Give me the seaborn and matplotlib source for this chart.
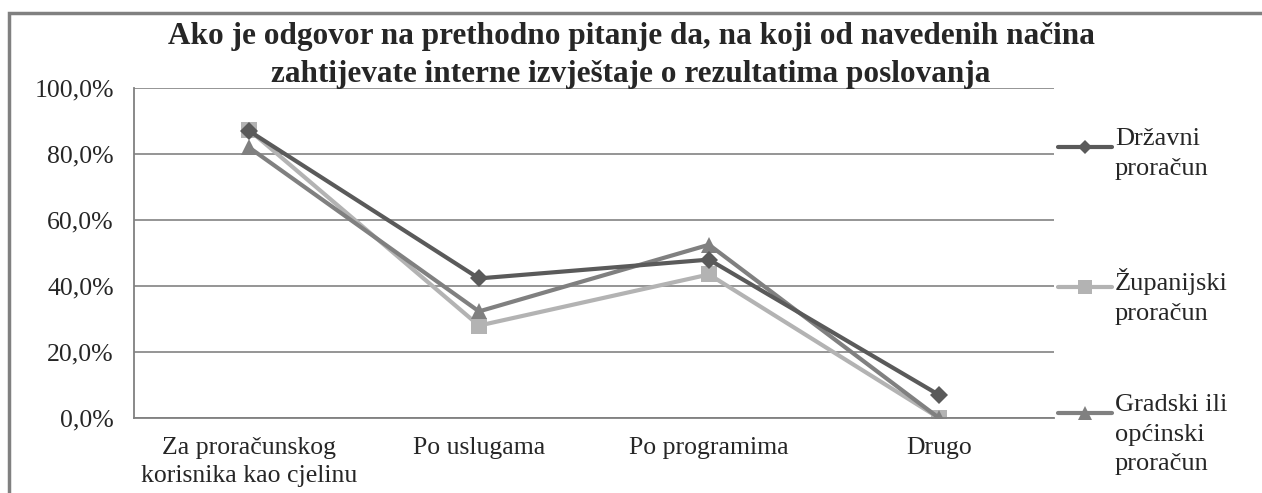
import matplotlib
matplotlib.use("Agg")
import matplotlib.pyplot as plt
from matplotlib.patches import Rectangle
from matplotlib.ticker import FuncFormatter
import pandas as pd
import seaborn as sns

# Podaci
kategorije = ["Za proračunskog\nkorisnika kao cjelinu", "Po uslugama", "Po programima", "Drugo"]
serije = ["Državni\nproračun", "Županijski\nproračun", "Gradski ili\nopćinski\nproračun"]
drzavni = [87.0, 42.3, 48.0, 7.0]
zupanijski = [87.3, 28.0, 43.5, 0.0]
gradski = [82.0, 32.3, 52.5, 0.0]

boje = ["#5a5a5a", "#b3b3b3", "#808080"]
markeri = ["D", "s", "^"]
velicine = [9, 12, 12]

df = pd.DataFrame({
    "x": list(range(len(kategorije))) * 3,
    "vrijednost": drzavni + zupanijski + gradski,
    "serija": [serije[0]] * 4 + [serije[1]] * 4 + [serije[2]] * 4,
})

sns.set_style("white")
plt.rcParams["font.family"] = ["Liberation Serif", "DejaVu Serif"]

W, H = 1262, 493
fig = plt.figure(figsize=(W / 100, H / 100), dpi=100)
ax = fig.add_axes([134 / W, (H - 418) / H, (1054 - 134) / W, (418 - 88) / H])

# crtanje redom da Državni bude na vrhu kao u originalu
for ser, c, m, ms, z in zip(serije, boje, markeri, velicine, [4, 2, 3]):
    sub = df[df["serija"] == ser]
    sns.lineplot(data=sub, x="x", y="vrijednost", color=c, marker=m, markersize=ms,
                 markeredgewidth=0, linewidth=3, ax=ax, zorder=z)

ax.set_xlim(-0.5, 3.5)
ax.set_ylim(0, 100)
ax.set_yticks([0, 20, 40, 60, 80, 100])
ax.yaxis.set_major_formatter(FuncFormatter(lambda v, p: f"{v:.1f}%".replace(".", ",")))
ax.set_xticks(range(len(kategorije)))
ax.set_xticklabels(kategorije, fontsize=18.5, linespacing=1.35)
ax.set_xticks([-0.5, 0.5, 1.5, 2.5, 3.5], minor=True)
ax.tick_params(axis="x", which="major", length=0, pad=14)
ax.tick_params(axis="x", which="minor", length=6.5, width=1.2, color="#808080", direction="out")
ax.tick_params(axis="y", length=6.5, width=1.2, color="#808080", direction="out", labelsize=18.5, pad=8)
ax.grid(axis="y", color="#8c8c8c", linewidth=1.3)
ax.set_xlabel("")
ax.set_ylabel("")
for s in ["top", "right"]:
    ax.spines[s].set_visible(False)
for s in ["left", "bottom"]:
    ax.spines[s].set_color("#808080")
    ax.spines[s].set_linewidth(1.3)

# Legenda (ručno, oznaka uz prvi red teksta)
leg_y = [147, 287, 413]
for ser, c, m, ms, y in zip(serije, boje, markeri, velicine, leg_y):
    yf = (H - y) / H
    fig.add_artist(plt.Line2D([1058 / W, 1112 / W], [yf, yf], color=c, linewidth=3,
                              transform=fig.transFigure))
    fig.add_artist(plt.Line2D([1085 / W], [yf], color=c, marker=m, markersize=ms - 2,
                              markeredgewidth=0, transform=fig.transFigure))
    fig.text(1115 / W, (H - y + 19) / H, ser, fontsize=19, va="top", ha="left",
             linespacing=1.45)

fig.suptitle("Ako je odgovor na prethodno pitanje da, na koji od navedenih načina\n"
             "zahtijevate interne izvještaje o rezultatima poslovanja",
             x=0.5, y=0.955, fontsize=22.5, fontweight="bold", linespacing=1.42)

# Okvir grafikona
fig.patches.append(Rectangle((9 / W, -0.05), (W - 9) / W + 0.01, (H - 13) / H + 0.05,
                             transform=fig.transFigure, fill=False,
                             edgecolor="#808080", linewidth=2.5))

fig.savefig("out.png", dpi=100)
